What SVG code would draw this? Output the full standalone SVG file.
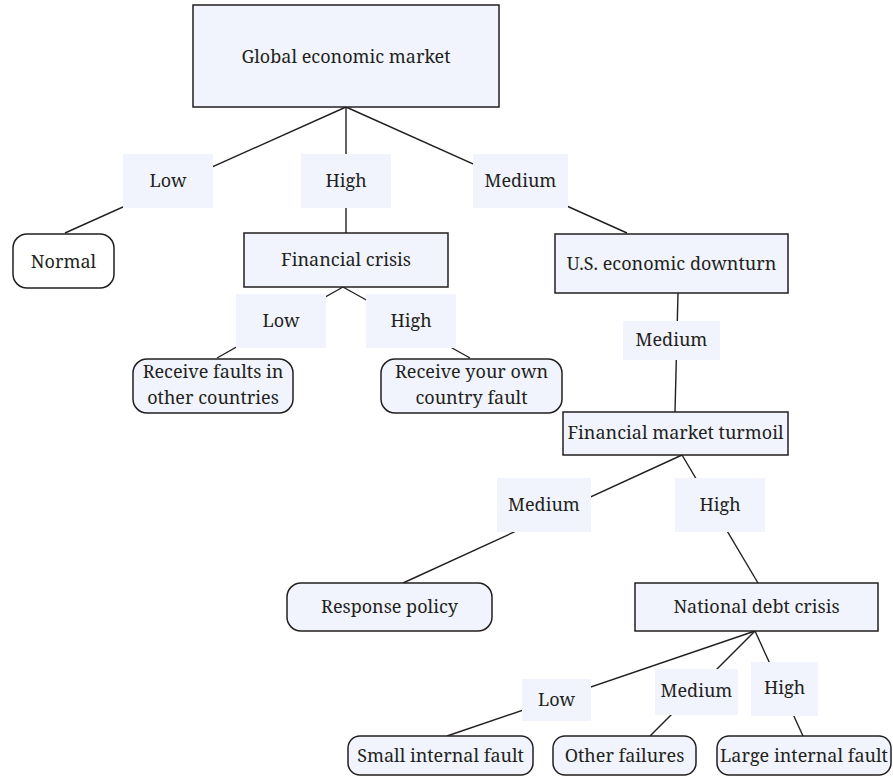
<svg xmlns="http://www.w3.org/2000/svg" width="893" height="776" viewBox="0 0 893 776">
  <style>
    text { font-family: "Noto Serif", "DejaVu Serif", serif; font-size: 18px; fill: #231f20; text-anchor: middle; }
    .edge { stroke: #231f20; stroke-width: 1.4; fill: none; }
    .box { fill: #f1f4fc; stroke: #231f20; stroke-width: 1.5; }
    .leaf { fill: #f1f4fc; stroke: #231f20; stroke-width: 1.5; }
    .plain { fill: #ffffff; stroke: #231f20; stroke-width: 1.5; }
    .tag { fill: #f1f4fc; stroke: none; }
  </style>

  <!-- connectors -->
  <g id="connectors">
    <line class="edge" x1="346" y1="107" x2="65" y2="233"/>
    <line class="edge" x1="346" y1="107" x2="346" y2="233"/>
    <line class="edge" x1="346" y1="107" x2="627" y2="233"/>
    <line class="edge" x1="343" y1="287" x2="217" y2="358"/>
    <line class="edge" x1="343" y1="287" x2="470" y2="358"/>
    <line class="edge" x1="678" y1="293" x2="675" y2="412"/>
    <line class="edge" x1="682" y1="455" x2="403" y2="583"/>
    <line class="edge" x1="682" y1="455" x2="758" y2="583"/>
    <line class="edge" x1="755" y1="631" x2="447" y2="736"/>
    <line class="edge" x1="755" y1="631" x2="650" y2="736"/>
    <line class="edge" x1="755" y1="631" x2="803" y2="736"/>
  </g>

  <!-- edge labels -->
  <g id="edge-labels">
    <g id="lbl-low-1"><rect class="tag" x="123" y="154" width="90" height="54"/><text x="168" y="187">Low</text></g>
    <g id="lbl-high-1"><rect class="tag" x="301" y="154" width="90" height="54"/><text x="346" y="187">High</text></g>
    <g id="lbl-medium-1"><rect class="tag" x="473" y="154" width="95" height="54"/><text x="520.5" y="187">Medium</text></g>
    <g id="lbl-low-2"><rect class="tag" x="236" y="294" width="90" height="54"/><text x="281" y="327">Low</text></g>
    <g id="lbl-high-2"><rect class="tag" x="366" y="294" width="90" height="54"/><text x="411" y="327">High</text></g>
    <g id="lbl-medium-3"><rect class="tag" x="623" y="321" width="97" height="39"/><text x="671.5" y="346">Medium</text></g>
    <g id="lbl-medium-4"><rect class="tag" x="497" y="478" width="94" height="54"/><text x="544" y="511">Medium</text></g>
    <g id="lbl-high-4"><rect class="tag" x="675" y="478" width="90" height="54"/><text x="720" y="511">High</text></g>
    <g id="lbl-low-5"><rect class="tag" x="522" y="679" width="69" height="42"/><text x="556.5" y="706">Low</text></g>
    <g id="lbl-medium-5"><rect class="tag" x="655" y="669" width="83" height="46"/><text x="696.5" y="697">Medium</text></g>
    <g id="lbl-high-5"><rect class="tag" x="751" y="662" width="67" height="54"/><text x="784.5" y="694">High</text></g>
  </g>

  <!-- nodes -->
  <g id="node-global"><rect class="box" x="193" y="5" width="306" height="102"/><text x="346" y="63">Global economic market</text></g>
  <g id="node-normal"><rect class="plain" x="13" y="234" width="101" height="54" rx="14"/><text x="63.5" y="268">Normal</text></g>
  <g id="node-financial-crisis"><rect class="box" x="244" y="233" width="204" height="54"/><text x="346" y="266">Financial crisis</text></g>
  <g id="node-faults-other"><rect class="leaf" x="133" y="359" width="160" height="54" rx="14"/><text x="213" y="378">Receive faults in</text><text x="213" y="404">other countries</text></g>
  <g id="node-fault-own"><rect class="leaf" x="381" y="359" width="181" height="54" rx="14"/><text x="471.5" y="378">Receive your own</text><text x="471.5" y="404">country fault</text></g>
  <g id="node-us-downturn"><rect class="box" x="555" y="234" width="233" height="59"/><text x="671.5" y="270">U.S. economic downturn</text></g>
  <g id="node-turmoil"><rect class="box" x="563" y="412" width="225" height="43"/><text x="675.5" y="439">Financial market turmoil</text></g>
  <g id="node-response"><rect class="leaf" x="287" y="583" width="205" height="48" rx="14"/><text x="389.5" y="613">Response policy</text></g>
  <g id="node-national-debt"><rect class="box" x="635" y="583" width="243" height="48"/><text x="756.5" y="613">National debt crisis</text></g>
  <g id="node-small-fault"><rect class="leaf" x="348" y="736" width="185" height="39" rx="12"/><text x="440.5" y="762">Small internal fault</text></g>
  <g id="node-other-failures"><rect class="leaf" x="553" y="736" width="143" height="39" rx="12"/><text x="624.5" y="762">Other failures</text></g>
  <g id="node-large-fault"><rect class="leaf" x="717" y="736" width="174" height="39" rx="12"/><text x="804" y="762">Large internal fault</text></g>
</svg>
